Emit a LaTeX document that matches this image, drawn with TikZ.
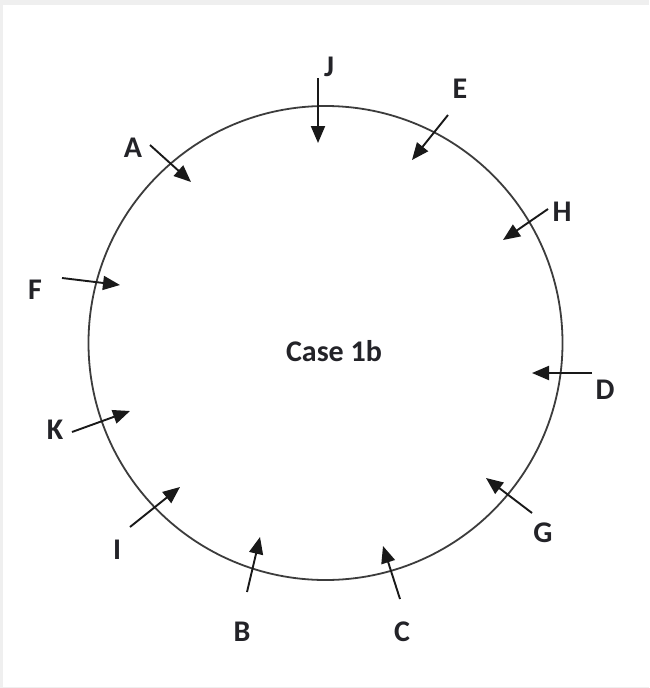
\documentclass[tikz,border=0pt]{standalone}
\usepackage{fontspec}
\setmainfont{Carlito}
\usetikzlibrary{arrows.meta}

\begin{document}
\begin{tikzpicture}[x=1pt, y=-1pt]

\definecolor{FrameGray}{RGB}{239,239,239}
\definecolor{RingGray}{RGB}{60,60,60}
\definecolor{LabelText}{RGB}{35,35,40}

\tikzset{
    letter/.style={font=\fontsize{30}{32}\selectfont\bfseries, text=LabelText, inner sep=0pt},
    flow/.style={-{Triangle[length=17pt, width=14pt]}, line width=1.9pt, black!90},
}

% ── Moldura cinza e fundo branco ────────────────────────────
\fill[FrameGray] (0,0) rectangle (649,688);
\fill[white] (3,5) rectangle (649,687);
\useasboundingbox (0,0) rectangle (649,688);

% ── Anel e título ───────────────────────────────────────────
\node[draw=RingGray, line width=1.8pt, circle,
      minimum size=474pt, inner sep=0pt] (ring) at (325.5,343) {};
\node[letter] (case) at (334,351) {Case 1b};

% ── Rótulos ─────────────────────────────────────────────────
\node[letter] (lblJ) at (329,67)  {J};
\node[letter] (lblE) at (460,89)  {E};
\node[letter] (lblA) at (133,148) {A};
\node[letter] (lblH) at (562,212) {H};
\node[letter] (lblF) at (35,290)  {F};
\node[letter] (lblD) at (605,390) {D};
\node[letter] (lblK) at (55,430)  {K};
\node[letter] (lblG) at (543,533) {G};
\node[letter] (lblI) at (117,550) {I};
\node[letter] (lblB) at (242,632) {B};
\node[letter] (lblC) at (402,632) {C};

% ── Pontas das setas (fora -> dentro do anel) ───────────────
\coordinate (tailJ) at (318,78);  \coordinate (tipJ) at (318,143);
\coordinate (tailE) at (448,115); \coordinate (tipE) at (412,160);
\coordinate (tailA) at (150,145); \coordinate (tipA) at (191,182);
\coordinate (tailH) at (548,209); \coordinate (tipH) at (503,240);
\coordinate (tailF) at (62,278);  \coordinate (tipF) at (120,285);
\coordinate (tailD) at (592,373); \coordinate (tipD) at (532,373);
\coordinate (tailK) at (72,432);  \coordinate (tipK) at (130,411);
\coordinate (tailG) at (532,513); \coordinate (tipG) at (486,478);
\coordinate (tailI) at (130,527); \coordinate (tipI) at (180,487);
\coordinate (tailB) at (247,592); \coordinate (tipB) at (260,537);
\coordinate (tailC) at (400,599); \coordinate (tipC) at (383,546);

% ── Setas ───────────────────────────────────────────────────
\draw[flow] (tailJ) -- (tipJ);
\draw[flow] (tailE) -- (tipE);
\draw[flow] (tailA) -- (tipA);
\draw[flow] (tailH) -- (tipH);
\draw[flow] (tailF) -- (tipF);
\draw[flow] (tailD) -- (tipD);
\draw[flow] (tailK) -- (tipK);
\draw[flow] (tailG) -- (tipG);
\draw[flow] (tailI) -- (tipI);
\draw[flow] (tailB) -- (tipB);
\draw[flow] (tailC) -- (tipC);

\end{tikzpicture}
\end{document}
